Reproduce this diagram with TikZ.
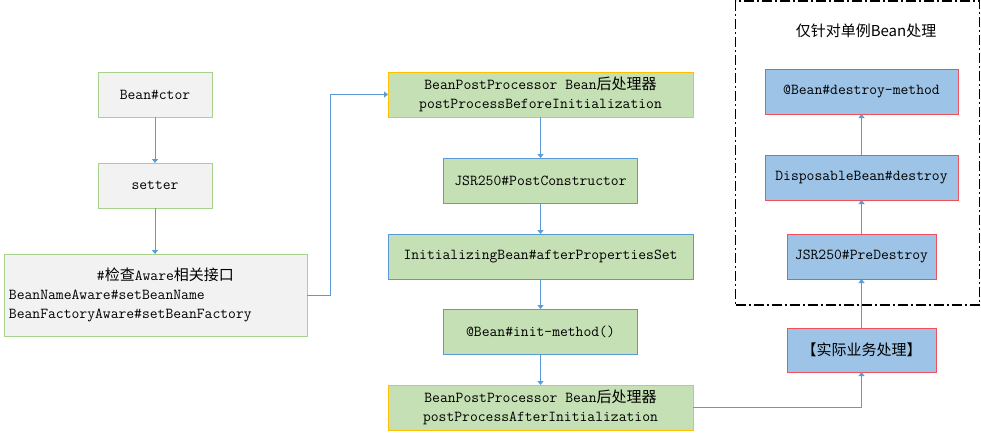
\documentclass[tikz,border=0pt]{standalone}
\usepackage{fontspec}
\newfontfamily\cjk{Noto Sans CJK SC}
\usetikzlibrary{arrows.meta}
\newcommand{\zh}[1]{{\cjk\fontsize{15}{19}\selectfont #1}}
\definecolor{greyfill}{HTML}{F2F2F2}
\definecolor{greenline}{HTML}{A9D18E}
\definecolor{greenfill}{HTML}{C5E0B4}
\definecolor{yellowline}{HTML}{FFC000}
\definecolor{blueline}{HTML}{5B9BD5}
\definecolor{bluefill}{HTML}{9DC3E6}
\definecolor{redline}{HTML}{F0505A}
\definecolor{arrowcol}{HTML}{5B9BD5}
\tikzset{
  base/.style={draw, line width=1pt, outer sep=0pt, inner sep=0pt, align=center,
    font=\ttfamily\fontsize{15.2}{19}\selectfont},
  greybox/.style={base, draw=greenline, fill=greyfill},
  yellowbox/.style={base, draw=yellowline, fill=greenfill},
  gbluebox/.style={base, draw=blueline, fill=greenfill},
  redbox/.style={base, draw=redline, fill=bluefill},
  conn/.style={draw=arrowcol, line width=1pt, -{Triangle[width=6pt,length=4pt]}},
}
\begin{document}
\begin{tikzpicture}[x=1pt,y=-1pt]
\useasboundingbox (0,0) rectangle (981,432);
% left column
\node[greybox, minimum width=114pt, minimum height=45pt] (ctor) at (155,94.5) {Bean\#ctor};
\node[greybox, minimum width=114pt, minimum height=45pt] (setter) at (155,185.5) {setter};
\node[greybox, minimum width=303pt, minimum height=82pt, text width=293pt, align=left] (aware) at (155.5,295)
  {\hspace*{88pt}\#\zh{检查}Aware\zh{相关接口}\\BeanNameAware\#setBeanName\\BeanFactoryAware\#setBeanFactory};
% middle column
\node[yellowbox, minimum width=305pt, minimum height=45pt] (bppb) at (540.5,94.5)
  {BeanPostProcessor Bean\zh{后处理器}\\postProcessBeforeInitialization};
\node[gbluebox, minimum width=194pt, minimum height=45pt] (jsrpc) at (540.5,180.5) {JSR250\#PostConstructor};
\node[gbluebox, minimum width=305pt, minimum height=45pt] (init) at (540.5,256.5) {InitializingBean\#afterPropertiesSet};
\node[gbluebox, minimum width=194pt, minimum height=45pt] (initm) at (540.5,331.5) {@Bean\#init-method()};
\node[yellowbox, minimum width=305pt, minimum height=45pt] (bppa) at (540.5,407.5)
  {BeanPostProcessor Bean\zh{后处理器}\\postProcessAfterInitialization};
% right column
\node[draw, line width=1.2pt, dash pattern=on 10pt off 3pt on 2pt off 3pt, minimum width=244pt, minimum height=304pt, inner sep=0pt] (frame) at (857.5,153) {};
\node[font=\cjk\fontsize{15}{19}\selectfont, inner sep=0pt] (title) at (866,31) {仅针对单例Bean处理};
\node[redbox, minimum width=193pt, minimum height=45pt] (dm) at (861.5,91.5) {@Bean\#destroy-method};
\node[redbox, minimum width=193pt, minimum height=45pt] (disp) at (861.5,177.5) {DisposableBean\#destroy};
\node[redbox, minimum width=149pt, minimum height=45pt] (pre) at (861.5,256.5) {JSR250\#PreDestroy};
\node[redbox, minimum width=149pt, minimum height=44pt] (biz) at (861.5,350) {\zh{【实际业务处理】}};
% connectors
\draw[conn] (ctor) -- (setter);
\draw[conn] (setter) -- (aware.north -| setter);
\draw[conn] (aware.east) -- ++(23,0) |- (bppb.west);
\draw[conn] (bppb) -- (jsrpc);
\draw[conn] (jsrpc) -- (init);
\draw[conn] (init) -- (initm);
\draw[conn] (initm) -- (bppa);
\draw[conn] (bppa.east) -| (biz.south);
\draw[conn] (biz) -- (pre);
\draw[conn] (pre) -- (disp);
\draw[conn] (disp) -- (dm);
\end{tikzpicture}
\end{document}
